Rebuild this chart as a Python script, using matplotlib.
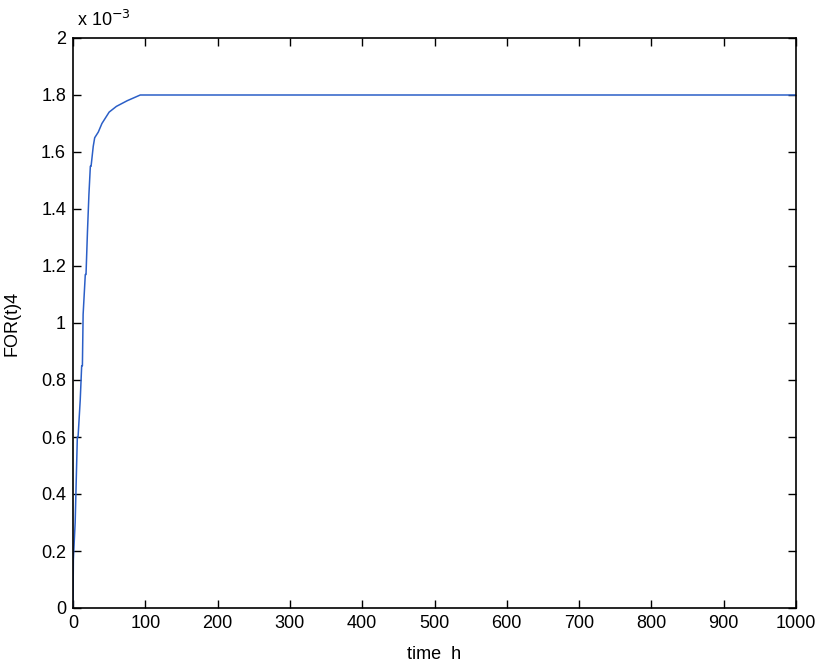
import matplotlib
matplotlib.use("Agg")
import matplotlib.pyplot as plt

# time (h) and FOR(t)4 values in units of 1e-3
t = [0, 0.5, 3, 4, 6, 7, 10, 12, 13, 14, 17, 18, 20, 22, 24, 25, 28, 30, 35, 40, 50, 60, 75, 93, 1000]
y = [0, 0.17, 0.30, 0.40, 0.60, 0.60, 0.73, 0.85, 0.85, 1.03, 1.17, 1.17, 1.32, 1.45, 1.55, 1.55, 1.62, 1.65, 1.67, 1.70, 1.74, 1.76, 1.78, 1.80, 1.80]

xticks = [0, 100, 200, 300, 400, 500, 600, 700, 800, 900, 1000]
yticks = [0, 0.2, 0.4, 0.6, 0.8, 1.0, 1.2, 1.4, 1.6, 1.8, 2.0]
yticklabels = ["0", "0.2", "0.4", "0.6", "0.8", "1", "1.2", "1.4", "1.6", "1.8", "2"]

plt.rcParams['font.family'] = ['Liberation Sans', 'DejaVu Sans']
fig = plt.figure(figsize=(8.18, 6.63), dpi=100)
ax = fig.add_axes([73/818, 55/663, (796-73)/818, (608-38)/663])
ax.plot(t, y, color='#2b5fc7', linewidth=1.1)
ax.set_xlim(0, 1000)
ax.set_ylim(0, 2)
ax.set_xticks(xticks)
ax.set_yticks(yticks)
ax.set_yticklabels(yticklabels)
ax.tick_params(direction='in', top=True, right=True, length=6, width=1, labelsize=13, pad=5)
for s in ax.spines.values():
    s.set_linewidth(1.2)
ax.set_xlabel("time  h", fontsize=13, labelpad=10)
ax.set_ylabel("FOR(t)4", fontsize=13, labelpad=15)
fig.text(77/818, 1 - 20/663, r"x 10$^{-3}$", fontsize=13, va='center', ha='left')
fig.savefig("out.png", dpi=100)
